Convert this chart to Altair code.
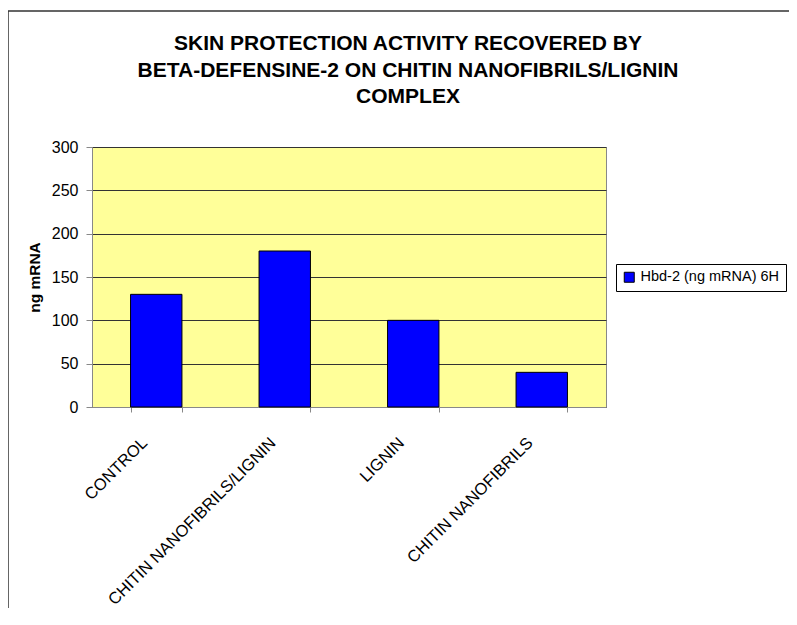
import altair as alt
import pandas as pd

categories = ["CONTROL", "CHITIN NANOFIBRILS/LIGNIN", "LIGNIN", "CHITIN NANOFIBRILS"]
values = [130, 180, 100, 40]
series_name = "Hbd-2 (ng mRNA) 6H"
y_ticks = [0, 50, 100, 150, 200, 250, 300]
title_lines = [
    "SKIN PROTECTION ACTIVITY RECOVERED BY",
    "BETA-DEFENSINE-2 ON CHITIN NANOFIBRILS/LIGNIN",
    "COMPLEX",
]

df = pd.DataFrame({"category": categories, "value": values, "series": [series_name] * len(categories)})

FONT = "Liberation Sans"

bars = alt.Chart(df).mark_bar(stroke="black", strokeWidth=1).encode(
    x=alt.X(
        "category:N",
        sort=categories,
        scale=alt.Scale(paddingInner=0.6, paddingOuter=0.3),
        axis=alt.Axis(
            title=None,
            labelAngle=-45,
            labelAlign="right",
            labelBaseline="middle",
            labelFontSize=16.5,
            labelFont=FONT,
            labelColor="black",
            labelPadding=28,
            labelOffset=-12,
            labelLimit=400,
            tickBand="extent",
            tickSize=5,
            tickColor="#888888",
            domainColor="#888888",
            grid=False,
        ),
    ),
    y=alt.Y(
        "value:Q",
        scale=alt.Scale(domain=[0, 300], nice=False),
        axis=alt.Axis(
            title="ng mRNA",
            values=y_ticks,
            titleFont=FONT,
            titleFontSize=15.5,
            titleFontWeight="bold",
            titleColor="black",
            titlePadding=9,
            labelFont=FONT,
            labelFontSize=16,
            labelColor="black",
            labelPadding=8,
            tickSize=6,
            tickColor="#888888",
            domainColor="#888888",
            grid=True,
            gridColor="#333333",
        ),
    ),
    color=alt.Color(
        "series:N",
        scale=alt.Scale(range=["#0000FF"]),
        legend=alt.Legend(
            title=None,
            orient="none",
            legendX=524,
            legendY=117,
            symbolType="square",
            symbolSize=100,
            symbolStrokeColor="black",
            symbolStrokeWidth=1,
            labelFont=FONT,
            labelFontSize=14.5,
            labelOffset=4,
            labelColor="black",
            labelLimit=400,
            strokeColor="black",
            fillColor="white",
            padding=6,
        ),
    ),
)

frame = alt.Chart(pd.DataFrame({"a": [0]})).mark_rect(
    fill="transparent", stroke="#333333", strokeWidth=1.5
).encode(
    x=alt.value(-84),
    x2=alt.value(900),
    y=alt.value(-136),
    y2=alt.value(700),
)

title = alt.Chart(pd.DataFrame({"a": [0]})).mark_text(
    font=FONT,
    fontSize=21,
    fontWeight="bold",
    color="black",
    align="center",
    baseline="middle",
    lineHeight=26.5,
).encode(
    x=alt.value(316),
    y=alt.value(-103),
    text=alt.value(title_lines),
)

chart = alt.layer(frame, bars, title).properties(
    width=514,
    height=260,
    padding={"left": 84, "top": 139, "right": 183, "bottom": 201},
    autosize=alt.AutoSizeParams(type="none"),
    background="white",
).configure_view(fill="#FFFF99", stroke="#888888", strokeWidth=1)

chart.save("out.html", embed_options={"renderer": "svg", "actions": False})
